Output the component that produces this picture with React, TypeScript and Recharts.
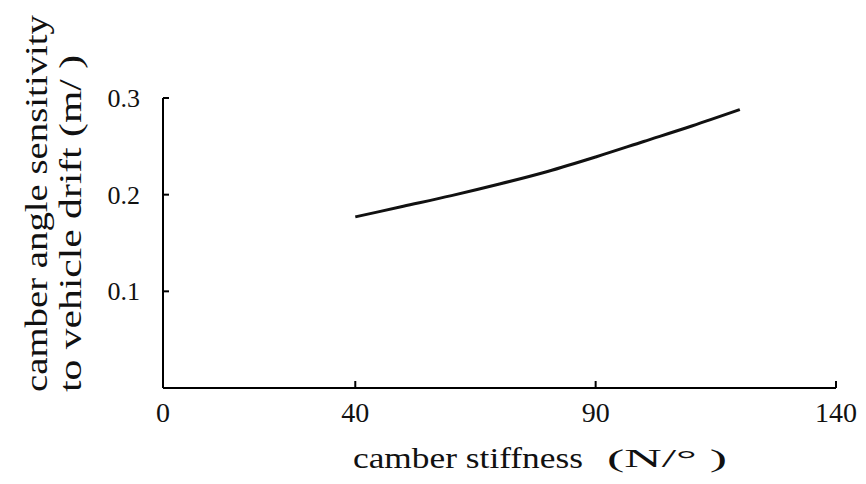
import React from "react";
import { LineChart, Line, XAxis, YAxis, Label } from "recharts";

const stiffness = [40, 50, 60, 70, 80, 90, 100, 110, 120];
const sensitivity = [0.177, 0.188, 0.199, 0.211, 0.224, 0.239, 0.255, 0.271, 0.288];
const xTicks = [0, 40, 90, 140];
const yTicks = [0.1, 0.2, 0.3];
const yTickLabels = ["0.1", "0.2", "0.3"];
const xTitle = "camber stiffness";
const xUnit = "(N/° )";
const yTitle1 = "camber angle sensitivity";
const yTitle2 = "to vehicle drift (m/  )";

const data = stiffness.map((s, i) => ({ s, v: sensitivity[i] }));

const FONT = "'Liberation Serif', 'Times New Roman', serif";

const XTick = (props: any) => {
  const { x, y, payload } = props;
  const v = payload.value;
  return (
    <g>
      {v !== 0 && <line x1={x} x2={x} y1={y} y2={y - 7} stroke="#000" strokeWidth={2} />}
      <text x={x} y={y + 34} textAnchor="middle" fontFamily={FONT} fontSize={28} fill="#111">
        {String(v)}
      </text>
    </g>
  );
};

const YTick = (props: any) => {
  const { x, y, payload } = props;
  const idx = yTicks.indexOf(payload.value);
  return (
    <g>
      <line x1={x} x2={x + 6} y1={y} y2={y} stroke="#000" strokeWidth={2} />
      <text x={x - 23} y={y + 9} textAnchor="end" fontFamily={FONT} fontSize={26} fill="#111">
        {idx >= 0 ? yTickLabels[idx] : ""}
      </text>
    </g>
  );
};

const XTitle = () => (
  <g>
    <text x={353} y={468} fontFamily={FONT} fontSize={30} fill="#111" textLength={230} lengthAdjust="spacingAndGlyphs">
      {xTitle}
    </text>
    <text x={607} y={467} fontFamily={FONT} fontSize={25} fill="#111" textLength={120} lengthAdjust="spacingAndGlyphs">
      {xUnit}
    </text>
  </g>
);

const YTitle = () => (
  <g>
    <text
      x={47}
      y={392}
      transform="rotate(-90, 47, 392)"
      fontFamily={FONT}
      fontSize={31}
      fill="#111"
      textLength={377}
      lengthAdjust="spacingAndGlyphs"
    >
      {yTitle1}
    </text>
    <text
      x={81}
      y={392}
      transform="rotate(-90, 81, 392)"
      fontFamily={FONT}
      fontSize={31}
      fill="#111"
      textLength={337}
      lengthAdjust="spacingAndGlyphs"
    >
      {yTitle2}
    </text>
  </g>
);

export default function App() {
  return (
    <div style={{ position: "absolute", left: 0, top: 0, width: 866, height: 484, background: "#fff" }}>
      <LineChart
        width={866}
        height={484}
        data={data}
        margin={{ top: 98, right: 30, bottom: 66, left: 103 }}
      >
        <XAxis
          dataKey="s"
          type="number"
          domain={[0, 140]}
          ticks={xTicks}
          height={30}
          tickSize={0}
          tickMargin={0}
          tickLine={false}
          axisLine={{ stroke: "#000", strokeWidth: 2 }}
          tick={<XTick />}
          interval={0}
        >
          <Label content={<XTitle />} />
        </XAxis>
        <YAxis
          type="number"
          domain={[0, 0.3]}
          ticks={yTicks}
          width={60}
          tickSize={0}
          tickMargin={0}
          tickLine={false}
          axisLine={{ stroke: "#000", strokeWidth: 2 }}
          tick={<YTick />}
          interval={0}
        >
          <Label content={<YTitle />} />
        </YAxis>
        <Line
          dataKey="v"
          type="monotone"
          stroke="#111"
          strokeWidth={3}
          dot={false}
          isAnimationActive={false}
        />
      </LineChart>
    </div>
  );
}
